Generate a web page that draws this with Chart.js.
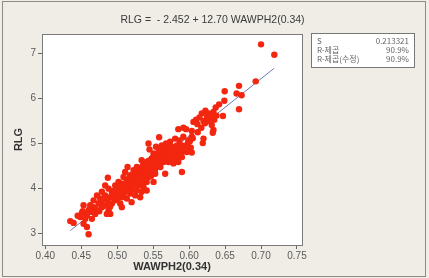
<!DOCTYPE html>
<html><head><meta charset="utf-8">
<script src="https://cdn.jsdelivr.net/npm/chart.js@4/dist/chart.umd.min.js"></script>
<style>
html,body{margin:0;padding:0;background:#efede6;}
#wrap{position:relative;width:429px;height:278px;overflow:hidden;}
#frame{position:absolute;left:2px;top:1px;width:422px;height:274px;border:1px solid #8a8a86;box-sizing:content-box;pointer-events:none;}
canvas{position:absolute;left:0;top:0;}
#title{position:absolute;left:0;width:425px;top:13px;text-align:center;font:10.5px "Liberation Sans",Arial,sans-serif;color:#3a3a3a;}
#stats{position:absolute;left:311px;top:33px;width:102px;height:33px;background:#fff;border:1px solid #777;font:8px "Noto Sans CJK KR","Liberation Sans",sans-serif;color:#666;}
#stats div{position:absolute;left:5px;right:5px;height:10px;line-height:10px;}
#stats span{position:absolute;right:0;}
</style></head>
<body><div id="wrap">
<canvas id="c" width="429" height="278"></canvas>
<div id="frame"></div>
<div id="title">RLG = &nbsp;- 2.452 + 12.70 WAWPH2(0.34)</div>
<div id="stats">
<div style="top:2px">S<span>0.213321</span></div>
<div style="top:11px">R-제곱<span>90.9%</span></div>
<div style="top:20px">R-제곱(수정)<span>90.9%</span></div>
</div>
</div>
<script>
const xTicks=[0.40,0.45,0.50,0.55,0.60,0.65,0.70,0.75];
const yTicks=[3,4,5,6,7];
const intercept=-2.452, slope=12.70;
const lineX=[0.435,0.718];
const waw=[0.700,0.7185,0.6926,0.6694,0.666,0.673,0.6694,0.6495,0.649,0.647,
0.6417,0.637,0.6338,0.635,0.630,0.627,0.6227,0.6176,0.6144,0.6097,
0.606,0.6116,0.620,0.6315,0.6338,0.6329,0.620,0.619,0.5921,0.585,
0.5958,0.6037,0.6037,0.599,0.592,0.5866,0.5806,0.5736,0.5583,0.5435,
0.5449,0.554,0.562,0.568,0.576,0.583,0.590,0.5968,0.6023,0.6037,
0.5968,0.590,0.583,0.5769,0.5713,0.5644,0.5574,0.5505,0.548,0.555,
0.562,0.569,0.576,0.583,0.590,0.585,0.5782,0.5713,0.5644,0.5574,
0.5505,0.541,0.534,0.5366,0.5435,0.5528,0.560,0.5667,0.590,0.5528,
0.5458,0.5389,0.532,0.5273,0.5227,0.5296,0.5366,0.5435,0.5505,0.541,
0.532,0.525,0.518,0.5144,0.511,0.5088,0.5157,0.5227,0.530,0.5366,
0.541,0.534,0.527,0.520,0.5134,0.5064,0.5018,0.4972,0.5042,0.5111,
0.518,0.525,0.532,0.520,0.5134,0.5064,0.4995,0.4926,0.488,0.4833,
0.487,0.4787,0.4833,0.4903,0.4972,0.5042,0.5064,0.4926,0.4856,0.4764,
0.4718,0.4671,0.4741,0.4787,0.4671,0.4625,0.4532,0.4602,0.4694,0.4579,
0.4509,0.4486,0.4556,0.4648,0.488,0.4903,0.4856,0.4532,0.4579,0.4347,
0.4394,0.4602,
0.470,0.475,0.478,0.482,0.485,0.488,0.490,0.493,0.495,0.497,
0.500,0.502,0.503,0.505,0.507,0.509,0.510,0.512,0.513,0.515,
0.516,0.518,0.519,0.521,0.522,0.523,0.525,0.526,0.528,0.529,
0.531,0.533,0.534,0.535,0.537,0.538,0.540,0.541,0.543,0.544,
0.546,0.547,0.549,0.550,0.552,0.553,0.555,0.556,0.558,0.559,
0.561,0.563,0.565,0.566,0.568,0.570,0.572,0.574,0.576,0.578,
0.580,0.582,0.585,0.588,0.592,0.595,0.598,0.601,0.605,0.612,
0.617,0.622,0.627,0.625,0.638,0.445,0.452,0.458,0.462,0.466];
const rlg=[7.20,6.97,6.38,6.28,6.11,6.07,5.76,6.16,5.95,5.61,
5.87,5.80,5.70,5.53,5.58,5.67,5.73,5.67,5.58,5.53,
5.48,5.43,5.50,5.41,5.30,5.24,5.11,5.01,5.35,5.32,
5.32,5.28,5.15,5.07,5.15,5.07,5.11,5.04,5.14,5.00,
4.87,4.93,4.96,5.00,4.93,4.96,4.96,4.96,4.91,4.80,
4.81,4.81,4.78,4.81,4.85,4.81,4.81,4.78,4.67,4.67,
4.70,4.68,4.67,4.67,4.70,4.59,4.56,4.59,4.59,4.56,
4.56,4.59,4.63,4.52,4.48,4.44,4.48,4.33,4.37,4.33,
4.37,4.41,4.44,4.48,4.41,4.33,4.30,4.26,4.15,4.15,
4.20,4.26,4.30,4.48,4.37,4.26,4.19,4.15,4.07,4.04,
3.96,3.93,3.96,4.04,4.07,4.11,4.15,4.07,4.00,3.96,
3.89,3.85,3.81,3.70,3.78,3.81,3.89,3.93,4.00,4.07,
4.24,3.93,3.85,3.81,3.74,3.67,3.59,3.67,3.74,3.78,
3.85,3.74,3.67,3.59,3.59,3.63,3.63,3.52,3.44,3.41,
3.46,3.37,3.33,3.33,3.52,3.44,3.44,3.22,3.15,3.28,
3.24,2.99,
3.55,3.50,3.72,3.62,3.80,3.68,3.60,3.85,3.95,3.82,
3.78,3.98,4.05,3.92,4.02,3.88,4.10,4.00,4.20,3.95,
4.12,4.25,4.05,4.18,3.98,4.30,4.10,4.22,4.35,4.15,
4.28,4.40,4.12,4.50,4.38,4.22,4.45,4.55,4.35,4.62,
4.50,4.28,4.58,4.70,4.40,4.62,4.75,4.52,4.68,4.88,
4.62,4.74,4.90,4.70,4.82,4.75,4.95,4.72,4.85,4.75,
4.90,4.82,4.88,4.75,4.90,4.85,5.00,5.05,5.12,5.25,
5.35,5.45,5.50,5.60,5.62,3.40,3.50,3.45,3.55,3.48];

const pts=waw.map((x,i)=>({x:x,y:rlg[i]}));
const fitPts=lineX.map(x=>({x:x,y:intercept+slope*x}));

const areaPlugin={id:'area',
 beforeDraw(ch){const a=ch.chartArea,c=ch.ctx;c.save();c.fillStyle='#fff';c.fillRect(a.left,a.top,a.right-a.left,a.bottom-a.top);c.restore();},
 afterDraw(ch){const a=ch.chartArea,c=ch.ctx;c.save();c.strokeStyle='#7a7a7a';c.lineWidth=1;c.strokeRect(Math.round(a.left)+0.5,Math.round(a.top)+0.5,Math.round(a.right-a.left),Math.round(a.bottom-a.top));c.restore();}
};
const tickFont={family:'"Liberation Sans", Arial, sans-serif',size:10};
new Chart(document.getElementById('c'),{
 data:{datasets:[
  {type:'line',data:fitPts,borderColor:'#6d78b4',borderWidth:1,pointRadius:0,fill:false,order:2},
  {type:'scatter',data:pts,backgroundColor:'#f3260f',borderColor:'#f3260f',borderWidth:0,pointRadius:3.2,order:1}
 ]},
 options:{responsive:false,animation:false,devicePixelRatio:1,
  layout:{padding:{left:0,right:127,top:34,bottom:0}},
  plugins:{legend:{display:false},tooltip:{enabled:false}},
  scales:{
   x:{type:'linear',min:0.3954,max:0.757,
    afterBuildTicks(s){s.ticks=xTicks.map(v=>({value:v}));},
    afterFit(s){s.height=33;},
    grid:{drawOnChartArea:false,drawTicks:true,tickLength:4,color:'#666'},
    border:{display:false},
    ticks:{font:tickFont,color:'#5a5a5a',padding:1,maxRotation:0,autoSkip:false,callback:v=>v.toFixed(2)},
    title:{display:true,text:'WAWPH2(0.34)',font:{family:'"Liberation Sans", Arial, sans-serif',size:11,weight:'bold'},color:'#333',padding:{top:0,bottom:4}}
   },
   y:{type:'linear',min:2.75,max:7.43,
    afterBuildTicks(s){s.ticks=yTicks.map(v=>({value:v}));},
    afterFit(s){s.width=42;},
    grid:{drawOnChartArea:false,drawTicks:true,tickLength:4,color:'#666'},
    border:{display:false},
    ticks:{font:tickFont,color:'#5a5a5a',padding:2,autoSkip:false,callback:v=>String(v)},
    title:{display:true,text:'RLG',font:{family:'"Liberation Sans", Arial, sans-serif',size:11,weight:'bold'},color:'#333',padding:{top:12,bottom:0}}
   }
  }
 },
 plugins:[areaPlugin]
});
</script>
</body></html>
